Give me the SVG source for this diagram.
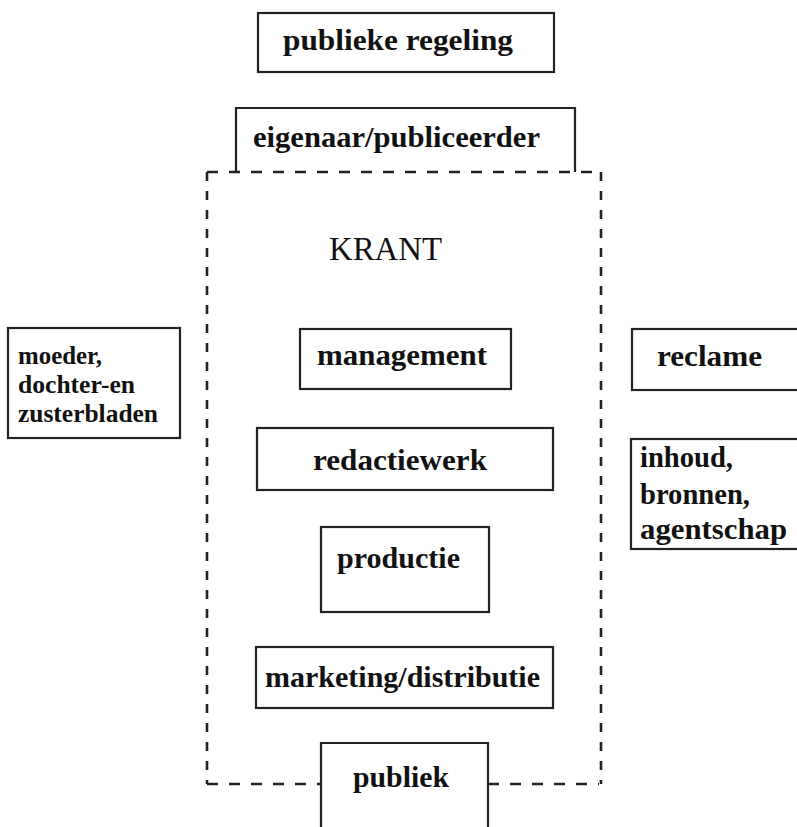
<svg xmlns="http://www.w3.org/2000/svg" width="797" height="827" viewBox="0 0 797 827">
<style>
.box{fill:none;stroke:#222;stroke-width:2.2}
.dash{fill:none;stroke:#222;stroke-width:2.6}
.t{font-family:"Liberation Serif","Times New Roman",serif;font-weight:bold;font-size:29px;fill:#111}
.s{font-family:"Liberation Serif","Times New Roman",serif;font-weight:bold;font-size:25px;fill:#111}
.k{font-family:"Liberation Serif","Times New Roman",serif;font-size:33px;fill:#111}
</style>
<rect width="797" height="827" fill="#fff"/>
<g id="connectors">
<path class="dash" d="M207,172 H601" stroke-dasharray="11,11"/>
<path class="dash" d="M207,172 V784 M601,172 V784" stroke-dasharray="9,10"/>
<path class="dash" d="M207,784 H321 M488,784 H599" stroke-dasharray="11,11"/>
</g>
<g id="publieke-regeling">
<rect class="box" x="258" y="13" width="296" height="59"/>
<text class="t" x="283" y="50" textLength="230" lengthAdjust="spacingAndGlyphs">publieke regeling</text>
</g>
<g id="eigenaar">
<path class="box" d="M236,172 V108 H575 V172"/>
<text class="t" x="253" y="147" textLength="287" lengthAdjust="spacingAndGlyphs">eigenaar/publiceerder</text>
</g>
<g id="krant">
<text class="k" x="329" y="260" textLength="113" lengthAdjust="spacingAndGlyphs">KRANT</text>
</g>
<g id="management">
<rect class="box" x="300" y="329" width="211" height="60"/>
<text class="t" x="317" y="365" textLength="170" lengthAdjust="spacingAndGlyphs">management</text>
</g>
<g id="redactiewerk">
<rect class="box" x="257" y="428" width="296" height="62"/>
<text class="t" x="313" y="470" textLength="174" lengthAdjust="spacingAndGlyphs">redactiewerk</text>
</g>
<g id="productie">
<rect class="box" x="321" y="527" width="168" height="85"/>
<text class="t" x="337" y="568" textLength="123" lengthAdjust="spacingAndGlyphs">productie</text>
</g>
<g id="marketing">
<rect class="box" x="256" y="647" width="297" height="61"/>
<text class="t" x="265" y="687" textLength="275" lengthAdjust="spacingAndGlyphs">marketing/distributie</text>
</g>
<g id="publiek">
<path class="box" d="M321,828 V743 H488 V828"/>
<text class="t" x="353" y="787" textLength="96" lengthAdjust="spacingAndGlyphs">publiek</text>
</g>
<g id="moeder">
<rect class="box" x="8" y="328" width="172" height="110"/>
<text class="s" x="18" y="364" textLength="84" lengthAdjust="spacingAndGlyphs">moeder,</text>
<text class="s" x="18" y="393" textLength="117" lengthAdjust="spacingAndGlyphs">dochter-en</text>
<text class="s" x="18" y="422" textLength="140" lengthAdjust="spacingAndGlyphs">zusterbladen</text>
</g>
<g id="reclame">
<rect class="box" x="632" y="329" width="170" height="61"/>
<text class="t" x="657" y="366" textLength="105" lengthAdjust="spacingAndGlyphs">reclame</text>
</g>
<g id="inhoud">
<rect class="box" x="631" y="439" width="171" height="110"/>
<text class="t" x="640" y="467" textLength="93" lengthAdjust="spacingAndGlyphs">inhoud,</text>
<text class="t" x="640" y="504" textLength="110" lengthAdjust="spacingAndGlyphs">bronnen,</text>
<text class="t" x="640" y="539" textLength="147" lengthAdjust="spacingAndGlyphs">agentschap</text>
</g>
</svg>
